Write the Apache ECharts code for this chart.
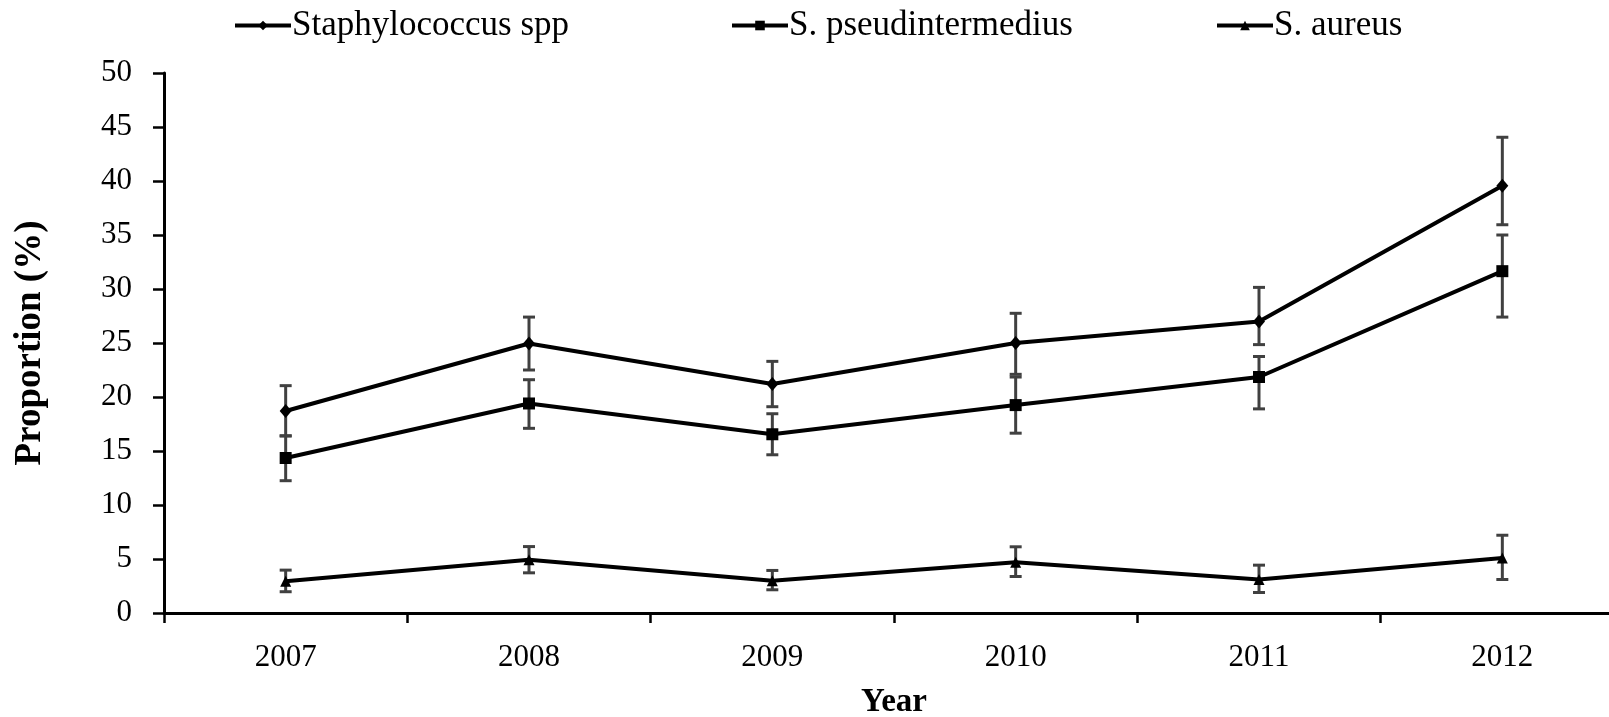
<!DOCTYPE html>
<html>
<head>
<meta charset="utf-8">
<script src="https://cdn.jsdelivr.net/npm/echarts@6/dist/echarts.min.js"></script>
<style>
html,body{margin:0;padding:0;background:#fff;}
#chart{width:1609px;height:717px;}
</style>
</head>
<body>
<div id="chart"></div>
<script>
const years = ['2007','2008','2009','2010','2011','2012'];
const yTicks = [0,5,10,15,20,25,30,35,40,45,50];

const staphName = 'Staphylococcus spp';
const staph = [18.7, 24.95, 21.2, 25.0, 27.0, 39.55];
const staphLow = [16.4, 22.5, 19.1, 22.1, 24.85, 35.95];
const staphHigh = [21.05, 27.4, 23.3, 27.75, 30.15, 44.05];

const pseudName = 'S. pseudintermedius';
const pseud = [14.35, 19.4, 16.55, 19.25, 21.85, 31.65];
const pseudLow = [12.25, 17.1, 14.65, 16.65, 18.9, 27.4];
const pseudHigh = [16.4, 21.6, 18.45, 21.85, 23.75, 35.0];

const aureusName = 'S. aureus';
const aureus = [2.95, 4.93, 2.98, 4.71, 3.1, 5.1];
const aureusLow = [1.97, 3.72, 2.15, 3.38, 1.9, 3.1];
const aureusHigh = [3.97, 6.15, 3.94, 6.13, 4.43, 7.2];

const FONT = 'Liberation Serif';

function errData(low, high) {
  return years.map((y, i) => [i, low[i], high[i]]);
}
function errSeries(low, high) {
  return {
    type: 'custom',
    z: 1,
    silent: true,
    data: errData(low, high),
    encode: { x: 0, y: [1, 2] },
    renderItem: function (params, api) {
      const x = api.value(0);
      const lo = api.coord([x, api.value(1)]);
      const hi = api.coord([x, api.value(2)]);
      const hw = 6;
      const st = { stroke: '#404040', lineWidth: 3 };
      return {
        type: 'group',
        children: [
          { type: 'line', shape: { x1: lo[0], y1: lo[1], x2: hi[0], y2: hi[1] }, style: st },
          { type: 'line', shape: { x1: lo[0] - hw, y1: lo[1], x2: lo[0] + hw, y2: lo[1] }, style: st },
          { type: 'line', shape: { x1: hi[0] - hw, y1: hi[1], x2: hi[0] + hw, y2: hi[1] }, style: st }
        ]
      };
    }
  };
}
function lineSeries(name, data, symbol, size) {
  return {
    name: name,
    type: 'line',
    z: 3,
    data: data,
    symbol: symbol,
    symbolSize: size,
    showAllSymbol: true,
    lineStyle: { color: '#000', width: 4 },
    itemStyle: { color: '#000' },
    emphasis: { disabled: true }
  };
}
function legendAt(name, left) {
  return {
    data: [name],
    left: left,
    top: 3,
    itemWidth: 56,
    itemHeight: 12,
    itemGap: 0,
    selectedMode: false,
    lineStyle: { width: 4, color: '#000' },
    textStyle: { fontFamily: FONT, fontSize: 35, color: '#000', lineHeight: 35, padding: [0, 0, 0, -4] }
  };
}

const chart = echarts.init(document.getElementById('chart'));
chart.setOption({
  animation: false,
  backgroundColor: '#fff',
  legend: [
    legendAt(staphName, 228),
    legendAt(pseudName, 725),
    legendAt(aureusName, 1210)
  ],
  grid: { left: 164, top: 73, width: 1460, height: 540, containLabel: false, outerBoundsMode: 'none' },
  xAxis: {
    type: 'category',
    data: years,
    boundaryGap: true,
    name: 'Year',
    nameLocation: 'middle',
    nameGap: 73,
    nameTextStyle: { fontFamily: FONT, fontSize: 33, fontWeight: 'bold', color: '#000' },
    axisLine: { lineStyle: { color: '#000', width: 3 } },
    axisTick: { show: true, length: 10, interval: 0, lineStyle: { color: '#000', width: 2.5 } },
    axisLabel: { fontFamily: FONT, fontSize: 31, color: '#000', margin: 29, interval: 0 },
    splitLine: { show: false }
  },
  yAxis: {
    type: 'value',
    min: 0,
    max: 50,
    interval: 5,
    name: 'Proportion (%)',
    nameLocation: 'middle',
    nameRotate: 90,
    nameGap: 115,
    nameTextStyle: { fontFamily: FONT, fontSize: 37, fontWeight: 'bold', color: '#000' },
    axisLine: { show: true, lineStyle: { color: '#000', width: 3 } },
    axisTick: { show: true, length: 11, lineStyle: { color: '#000', width: 2.5 } },
    axisLabel: {
      fontFamily: FONT, fontSize: 31, color: '#000', margin: 32,
      formatter: function (v) { return yTicks.indexOf(v) >= 0 ? String(v) : ''; }
    },
    splitLine: { show: false }
  },
  series: [
    errSeries(staphLow, staphHigh),
    errSeries(pseudLow, pseudHigh),
    errSeries(aureusLow, aureusHigh),
    lineSeries(staphName, staph, 'diamond', [12, 14]),
    lineSeries(pseudName, pseud, 'rect', 12),
    lineSeries(aureusName, aureus, 'triangle', 11)
  ]
});
</script>
</body>
</html>
